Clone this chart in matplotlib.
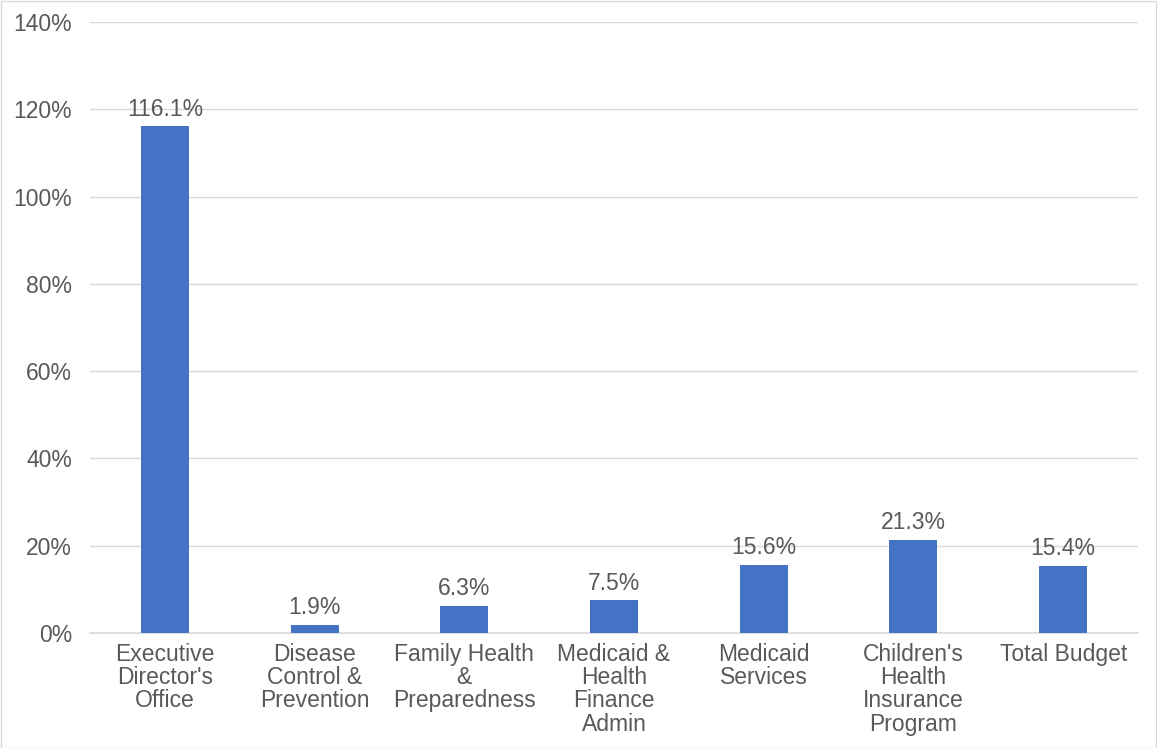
import matplotlib
matplotlib.use("Agg")
import matplotlib.pyplot as plt
from matplotlib.patches import Rectangle
from matplotlib.ticker import FuncFormatter

plt.rcParams['font.family'] = ['Liberation Sans', 'DejaVu Sans']

categories = [
    "Executive\nDirector's\nOffice",
    "Disease\nControl &\nPrevention",
    "Family Health\n&\nPreparedness",
    "Medicaid &\nHealth\nFinance\nAdmin",
    "Medicaid\nServices",
    "Children's\nHealth\nInsurance\nProgram",
    "Total Budget",
]
values = [116.1, 1.9, 6.3, 7.5, 15.6, 21.3, 15.4]
y_ticks = [0, 20, 40, 60, 80, 100, 120, 140]

text_color = "#595959"
grid_color = "#d9d9d9"
bar_color = "#4472c4"
fs = 16.5

fig = plt.figure(figsize=(11.57, 7.48), dpi=100)
ax = fig.add_axes([90 / 1157, 115 / 748, 1048 / 1157, 611 / 748])

x = list(range(len(categories)))
bars = ax.bar(x, values, width=0.32, color=bar_color, zorder=3)

ax.set_xlim(-0.5, len(categories) - 0.5)
ax.set_ylim(0, 140)
ax.set_yticks(y_ticks)
ax.yaxis.set_major_formatter(FuncFormatter(lambda v, p: f"{v:.0f}%"))
ax.grid(axis="y", color=grid_color, linewidth=1, zorder=0)

ax.set_xticks(x)
ax.set_xticklabels(categories, fontsize=fs, color=text_color, linespacing=1.02)
ax.tick_params(axis="x", length=0, pad=7)
ax.tick_params(axis="y", length=0, pad=13, labelsize=fs, labelcolor=text_color)

for s in ["top", "right", "left"]:
    ax.spines[s].set_visible(False)
ax.spines["bottom"].set_color(grid_color)
ax.spines["bottom"].set_linewidth(1.2)

for xi, v in zip(x, values):
    ax.annotate(f"{v:.1f}%", (xi, v), xytext=(0, 4), textcoords="offset points",
                ha="center", va="bottom", fontsize=fs, color=text_color)

fig.patches.append(Rectangle((0.5 / 1157, 0.5 / 748), 1 - 1.5 / 1157, 1 - 1.5 / 748,
                             transform=fig.transFigure, fill=False,
                             edgecolor=grid_color, linewidth=1))

fig.savefig("out.png", dpi=100)
